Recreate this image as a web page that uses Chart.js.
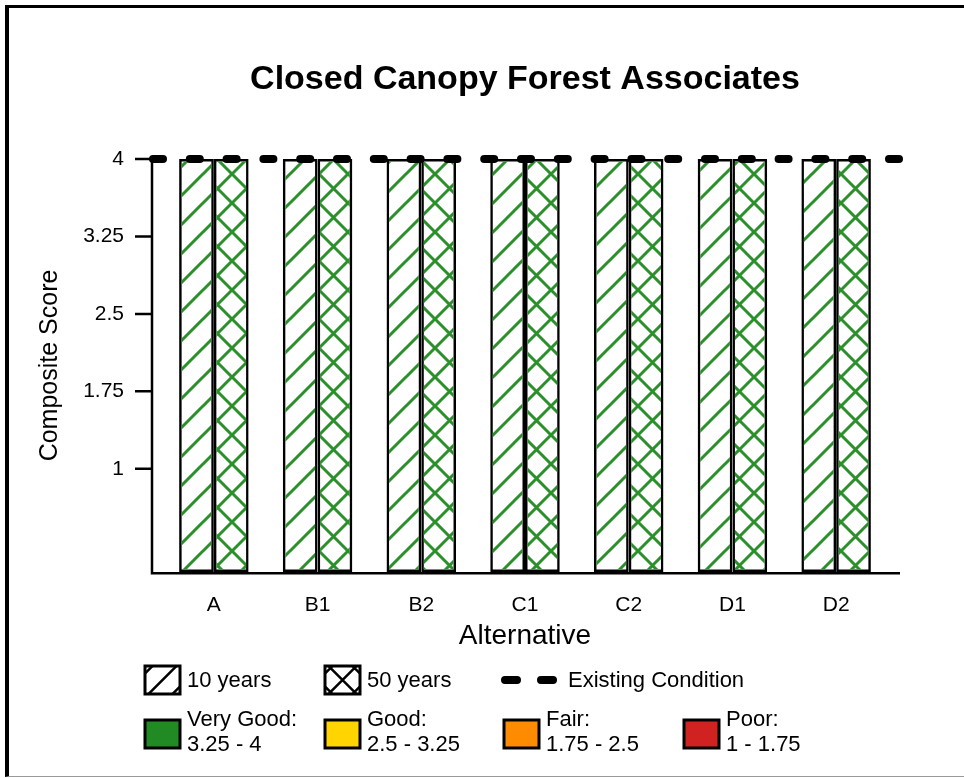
<!DOCTYPE html>
<html>
<head>
<meta charset="utf-8">
<title>Closed Canopy Forest Associates</title>
<script src="https://cdn.jsdelivr.net/npm/chart.js@4.4.1/dist/chart.umd.min.js"></script>
<style>
    html, body { margin: 0; padding: 0; background: #fff; overflow: hidden; }
    #wrap { position: relative; width: 964px; height: 778px; }
    #frame {
        position: absolute; left: 5px; top: 5px; right: -10px; bottom: 1px;
        border-left: 4px solid #000; border-top: 3px solid #000; border-bottom: 1px solid #999;
        pointer-events: none;
    }
</style>
</head>
<body>
<div id="wrap">
    <canvas id="scoreChart"></canvas>
    <div id="frame"></div>
</div>
<script>
// Scores per alternative
const alternatives = ['A', 'B1', 'B2', 'C1', 'C2', 'D1', 'D2'];
const tenYearScores = [4, 4, 4, 4, 4, 4, 4];
const fiftyYearScores = [4, 4, 4, 4, 4, 4, 4];
const existingCondition = 4;
const scoreTicks = [1, 1.75, 2.5, 3.25, 4];

// Legend text
const seriesNames = ['10 years', '50 years'];
const conditionName = 'Existing Condition';
const ratingNames = ['Very Good:', 'Good:', 'Fair:', 'Poor:'];
const ratingRanges = ['3.25 - 4', '2.5 - 3.25', '1.75 - 2.5', '1 - 1.75'];

const ratingColors = ['#228a22', '#ffd400', '#ff8c00', '#d12222'];
const hatchGreen = '#2a902a';
const FONT = 'Arial, "Liberation Sans", sans-serif';

// Build a repeating hatch tile: "/" lines, plus "\" lines when cross is set
function hatchPattern(cross) {
    const size = 29;
    const c = document.createElement('canvas');
    c.width = c.height = size;
    const g = c.getContext('2d');
    g.strokeStyle = hatchGreen;
    g.lineWidth = 3;
    g.beginPath();
    g.moveTo(-2, size + 2); g.lineTo(size + 2, -2);
    g.moveTo(-2, 2); g.lineTo(2, -2);
    g.moveTo(size - 2, size + 2); g.lineTo(size + 2, size - 2);
    if (cross) {
        g.moveTo(-2, -2); g.lineTo(size + 2, size + 2);
        g.moveTo(size - 2, -2); g.lineTo(size + 2, 2);
        g.moveTo(-2, size - 2); g.lineTo(2, size + 2);
    }
    g.stroke();
    return g.createPattern(c, 'repeat');
}

// Axis lines, tick marks, existing condition line and the legend
const extrasPlugin = {
    id: 'extras',
    afterDraw(chart) {
        const ctx = chart.ctx;
        const area = chart.chartArea;
        const y = chart.scales.y;
        const axisLeft = area.left - 10;
        const axisRight = area.right + 12;

        ctx.save();
        ctx.strokeStyle = '#000';
        ctx.lineWidth = 2.5;
        ctx.lineCap = 'butt';
        ctx.beginPath();
        ctx.moveTo(axisLeft, y.getPixelForValue(4));
        ctx.lineTo(axisLeft, area.bottom + 1.2);
        ctx.lineTo(axisRight, area.bottom + 1.2);
        scoreTicks.forEach(v => {
            const py = y.getPixelForValue(v);
            ctx.moveTo(axisLeft - 17, py);
            ctx.lineTo(axisLeft, py);
        });
        ctx.stroke();

        // existing condition
        const cy = y.getPixelForValue(existingCondition);
        ctx.lineWidth = 8;
        ctx.lineCap = 'round';
        ctx.setLineDash([10, 26.8]);
        ctx.beginPath();
        ctx.moveTo(axisLeft + 1, cy);
        ctx.lineTo(axisRight, cy);
        ctx.stroke();
        ctx.setLineDash([]);

        // legend
        const cols = [145, 325, 504, 684];
        const boxW = 35, boxH = 28;
        ctx.font = '22px ' + FONT;
        ctx.fillStyle = '#000';
        ctx.textAlign = 'left';
        ctx.textBaseline = 'middle';

        // hatch keys
        [false, true].forEach((cross, i) => {
            const bx = cols[i], by = 666;
            ctx.save();
            ctx.beginPath();
            ctx.rect(bx, by, boxW, boxH);
            ctx.clip();
            ctx.lineWidth = 2.5;
            ctx.lineCap = 'butt';
            ctx.beginPath();
            const cx0 = bx + boxW / 2, cy0 = by + boxH / 2;
            for (let k = -2; k <= 2; k++) {
                const off = k * 24;
                ctx.moveTo(cx0 + off - 30, cy0 + 30);
                ctx.lineTo(cx0 + off + 30, cy0 - 30);
                if (cross) {
                    ctx.moveTo(cx0 + off - 30, cy0 - 30);
                    ctx.lineTo(cx0 + off + 30, cy0 + 30);
                }
            }
            ctx.stroke();
            ctx.restore();
            ctx.lineWidth = 3;
            ctx.strokeRect(bx, by, boxW, boxH);
            ctx.fillText(seriesNames[i], bx + 42, 681);
        });

        // existing condition key
        ctx.lineWidth = 8;
        ctx.lineCap = 'round';
        ctx.beginPath();
        ctx.moveTo(505, 680); ctx.lineTo(517, 680);
        ctx.moveTo(541, 680); ctx.lineTo(553, 680);
        ctx.stroke();
        ctx.fillText(conditionName, 568, 681);

        // rating keys
        ratingNames.forEach((name, i) => {
            const bx = cols[i], by = 720;
            ctx.fillStyle = ratingColors[i];
            ctx.fillRect(bx, by, boxW, boxH);
            ctx.lineWidth = 3;
            ctx.lineCap = 'butt';
            ctx.strokeRect(bx, by, boxW, boxH);
            ctx.fillStyle = '#000';
            ctx.fillText(name, bx + 42, 720);
            ctx.fillText(ratingRanges[i], bx + 42, 745);
        });
        ctx.restore();
    }
};

const ctx = document.getElementById('scoreChart').getContext('2d');
const chart = new Chart(ctx, {
    type: 'bar',
    data: {
        labels: alternatives,
        datasets: [{
            label: seriesNames[0],
            data: tenYearScores,
            backgroundColor: hatchPattern(false),
            borderColor: '#000',
            borderWidth: 2.5,
            borderSkipped: false
        }, {
            label: seriesNames[1],
            data: fiftyYearScores,
            backgroundColor: hatchPattern(true),
            borderColor: '#000',
            borderWidth: 2.5,
            borderSkipped: false
        }]
    },
    options: {
        responsive: true,
        maintainAspectRatio: false,
        animation: false,
        layout: { padding: { left: 0, right: 76, top: 0, bottom: 0 } },
        categoryPercentage: 0.67,
        barPercentage: 1,
        plugins: {
            legend: { display: false },
            tooltip: { enabled: false },
            title: {
                display: true,
                text: 'Closed Canopy Forest Associates',
                fullSize: false,
                color: '#000',
                font: { family: FONT, size: 34, weight: 'bold' },
                padding: { top: 59.6, bottom: 58.6 }
            }
        },
        scales: {
            x: {
                grid: { display: false, drawTicks: false },
                border: { display: false },
                ticks: { color: '#000', font: { family: FONT, size: 21 }, padding: 21, maxRotation: 0 },
                title: {
                    display: true,
                    text: 'Alternative',
                    color: '#000',
                    font: { family: FONT, size: 28 },
                    padding: { top: 0, bottom: 125.2 }
                },
                afterFit: s => { s.height = 206; }
            },
            y: {
                min: 0,
                max: 4,
                grid: { display: false, drawTicks: false },
                border: { display: false },
                ticks: {
                    color: '#000',
                    font: { family: FONT, size: 21 },
                    padding: 38,
                    callback: value => String(value)
                },
                afterBuildTicks: s => { s.ticks = scoreTicks.map(v => ({ value: v })); },
                title: {
                    display: true,
                    text: 'Composite Score',
                    color: '#000',
                    font: { family: FONT, size: 25 },
                    padding: { top: 35, bottom: 0 }
                },
                afterFit: s => { s.width = 162; }
            }
        }
    },
    plugins: [extrasPlugin]
});
</script>
</body>
</html>
